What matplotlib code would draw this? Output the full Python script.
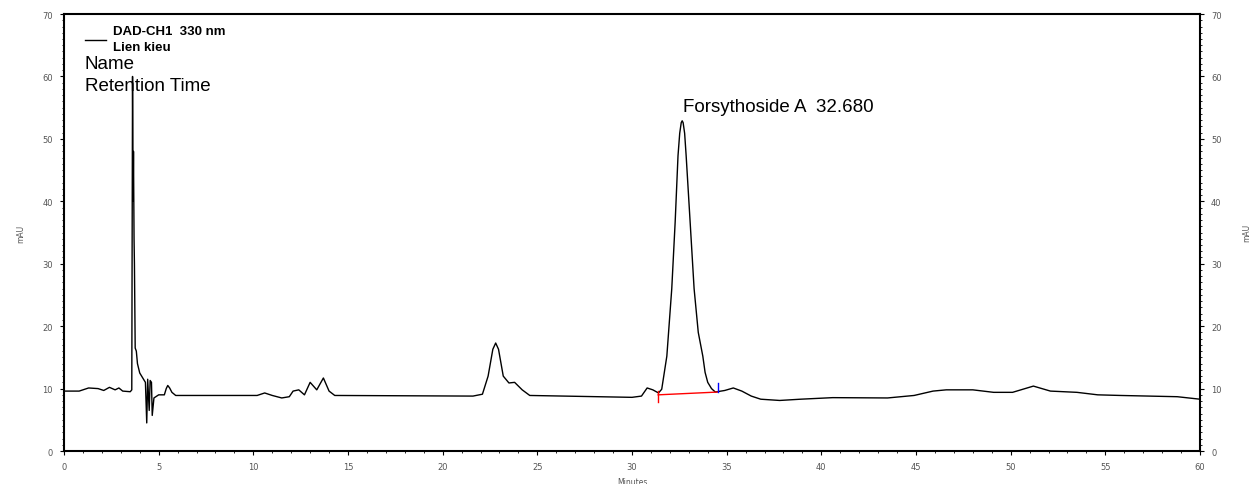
import matplotlib.pyplot as plt
from matplotlib.ticker import MultipleLocator

# chromatogram trace (time in minutes, signal in mAU)
time_min = [0.0, 0.8, 1.3, 1.8, 2.1, 2.4, 2.7, 2.9, 3.1, 3.5, 3.58,
            3.62, 3.65, 3.67, 3.70, 3.72, 3.76, 3.82, 3.88, 4.0, 4.2, 4.3,
            4.37, 4.42, 4.5, 4.55, 4.62, 4.66, 4.75, 5.0, 5.3, 5.4, 5.48, 5.58, 5.7, 5.9,
            10.2, 10.6, 11.0, 11.5, 11.9, 12.1, 12.4, 12.7, 13.0, 13.35, 13.7,
            14.0, 14.3, 21.6, 22.1, 22.4, 22.65, 22.8, 22.95, 23.2, 23.5, 23.8, 24.2, 24.6,
            30.0, 30.5, 30.8, 31.1, 31.4, 31.57, 31.84, 32.1, 32.28, 32.43, 32.52, 32.6, 32.65,
            32.7, 32.78, 32.86, 33.07, 33.28, 33.5, 33.74, 33.86, 34.0, 34.2, 34.4, 34.9, 35.35, 35.8,
            36.3, 36.8, 37.8, 38.9, 40.6, 43.5, 44.9, 45.9, 46.6, 48.0, 49.1,
            50.1, 51.2, 52.1, 53.5, 54.6, 55.8, 58.8, 60.0]
signal_mau = [9.6, 9.6, 10.1, 10.0, 9.7, 10.2, 9.8, 10.1, 9.6, 9.5, 9.8,
              60.0, 40.0, 48.0, 34.0, 30.0, 16.5, 16.0, 14.0, 12.5, 11.5, 11.0,
              4.5, 11.5, 6.5, 11.3, 11.0, 5.7, 8.5, 9.0, 9.0, 10.0, 10.5, 10.1, 9.4, 8.9,
              8.9, 9.3, 8.9, 8.5, 8.7, 9.6, 9.8, 9.0, 11.0, 9.8, 11.7,
              9.6, 8.9, 8.8, 9.1, 12.0, 16.3, 17.3, 16.3, 12.0, 10.9, 11.0, 9.8, 8.9,
              8.6, 8.8, 10.1, 9.8, 9.3, 9.9, 15.2, 26.0, 36.7, 47.3, 50.9, 52.6, 52.9,
              52.6, 50.9, 47.3, 36.7, 26.0, 19.0, 15.2, 12.6, 11.0, 10.0, 9.45, 9.7, 10.1, 9.6,
              8.8, 8.3, 8.1, 8.3, 8.55, 8.5, 8.9, 9.6, 9.8, 9.8, 9.4,
              9.4, 10.4, 9.6, 9.4, 9.0, 8.9, 8.7, 8.3]

# integration baseline of the main peak
base_t = [31.38, 34.55]
base_y = [9.0, 9.45]

peak_name = "Forsythoside A"
peak_rt = 32.680
peak_height = 52.9

fig = plt.figure(figsize=(12.5, 4.85), dpi=100)
ax = fig.add_axes([0.0512, 0.068, 0.9088, 0.901])

ax.plot(time_min, signal_mau, color='black', lw=1.0)
ax.plot(base_t, base_y, color='red', lw=1.0)
ax.plot([base_t[0], base_t[0]], [base_y[0] - 1.2, base_y[0] + 0.6], color='red', lw=1.0)
ax.plot([base_t[1], base_t[1]], [base_y[1], base_y[1] + 1.5], color='blue', lw=1.0)

ax.text(peak_rt, peak_height + 1.0, f"{peak_name}  {peak_rt:.3f}", fontsize=13.5,
        family='Liberation Sans', ha='left', va='bottom')

ax.set_xlim(0, 60)
ax.set_ylim(0, 70)
ax.xaxis.set_major_locator(MultipleLocator(5))
ax.xaxis.set_minor_locator(MultipleLocator(1))
ax.yaxis.set_major_locator(MultipleLocator(10))
ax.yaxis.set_minor_locator(MultipleLocator(1))
ax.tick_params(which='both', right=True, labelright=True, labelsize=6,
               labelcolor='#555555', width=0.8)
ax.tick_params(which='major', length=3, pad=5)
ax.tick_params(which='minor', length=1.5, width=0.6)
for s in ax.spines.values():
    s.set_linewidth(1.5)

ax.set_xlabel('Minutes', fontsize=5.5, color='#555555', labelpad=4)
ax.set_ylabel('mAU', fontsize=5.5, color='#555555', labelpad=12)
fig.text(0.9935, 0.52, 'mAU', fontsize=5.5, color='#555555', rotation=90, va='center')

# legend block in the upper left
ax.plot([1.1, 2.2], [65.9, 65.9], color='black', lw=1.0)
ax.text(2.6, 67.3, 'DAD-CH1  330 nm', fontsize=9.5, fontweight='bold',
        family='Liberation Sans', va='center')
ax.text(2.6, 64.7, 'Lien kieu', fontsize=9.5, fontweight='bold',
        family='Liberation Sans', va='center')
ax.text(1.1, 62.1, 'Name', fontsize=13.5, family='Liberation Sans', va='center')
ax.text(1.1, 58.6, 'Retention Time', fontsize=13.5, family='Liberation Sans', va='center')

plt.savefig('out.png', dpi=100)
